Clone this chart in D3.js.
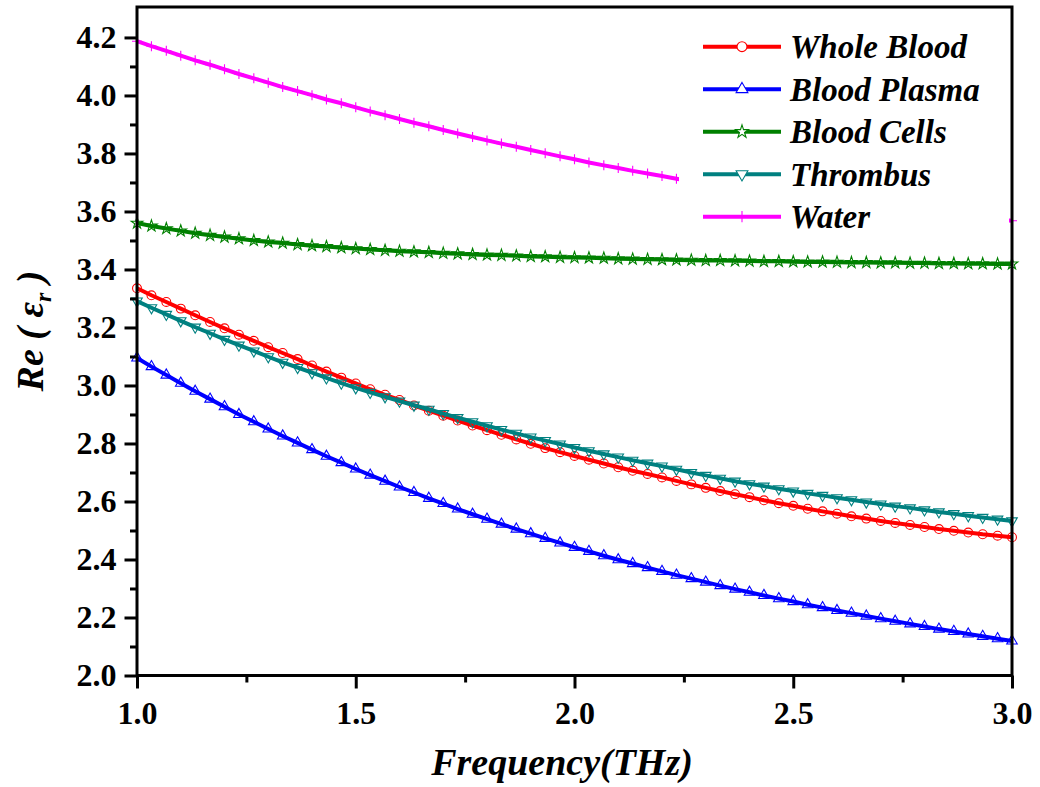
<!DOCTYPE html>
<html>
<head>
<meta charset="utf-8">
<script src="https://cdn.jsdelivr.net/npm/d3@7"></script>
<style>
    body { margin: 0; background: #fff; }
    svg text { font-family: "Liberation Serif", "Times New Roman", Tinos, "DejaVu Serif", serif; font-weight: bold; }
</style>
</head>
<body>
<div id="chart"></div>
<script>
// frequency in THz, one value per marker
const frequency = [
    1.000, 1.033, 1.067, 1.100, 1.133, 1.167, 1.200, 1.233, 1.267, 1.300,
    1.333, 1.367, 1.400, 1.433, 1.467, 1.500, 1.533, 1.567, 1.600, 1.633,
    1.667, 1.700, 1.733, 1.767, 1.800, 1.833, 1.867, 1.900, 1.933, 1.967,
    2.000, 2.033, 2.067, 2.100, 2.133, 2.167, 2.200, 2.233, 2.267, 2.300,
    2.333, 2.367, 2.400, 2.433, 2.467, 2.500, 2.533, 2.567, 2.600, 2.633,
    2.667, 2.700, 2.733, 2.767, 2.800, 2.833, 2.867, 2.900, 2.933, 2.967,
    3.000
];

const wholeBlood = [
    3.335, 3.311, 3.288, 3.265, 3.242, 3.219, 3.197, 3.175, 3.154, 3.132,
    3.112, 3.091, 3.069, 3.048, 3.027, 3.007, 2.987, 2.968, 2.950, 2.931,
    2.913, 2.896, 2.879, 2.862, 2.846, 2.830, 2.814, 2.799, 2.784, 2.770,
    2.757, 2.744, 2.731, 2.718, 2.706, 2.695, 2.683, 2.671, 2.659, 2.647,
    2.636, 2.625, 2.615, 2.604, 2.594, 2.585, 2.575, 2.566, 2.558, 2.549,
    2.541, 2.533, 2.526, 2.519, 2.512, 2.505, 2.499, 2.493, 2.487, 2.482,
    2.477
];

const bloodPlasma = [
    3.095, 3.065, 3.036, 3.008, 2.980, 2.953, 2.927, 2.900, 2.875, 2.850,
    2.826, 2.802, 2.779, 2.756, 2.734, 2.712, 2.691, 2.670, 2.650, 2.631,
    2.611, 2.593, 2.574, 2.556, 2.539, 2.522, 2.505, 2.489, 2.473, 2.457,
    2.442, 2.428, 2.413, 2.399, 2.386, 2.372, 2.359, 2.346, 2.334, 2.322,
    2.310, 2.298, 2.287, 2.276, 2.265, 2.255, 2.244, 2.234, 2.224, 2.215,
    2.205, 2.196, 2.187, 2.178, 2.169, 2.160, 2.152, 2.143, 2.135, 2.127,
    2.119
];

const bloodCells = [
    3.560, 3.550, 3.541, 3.533, 3.525, 3.518, 3.512, 3.506, 3.500, 3.495,
    3.491, 3.486, 3.482, 3.479, 3.475, 3.472, 3.469, 3.466, 3.463, 3.461,
    3.459, 3.456, 3.454, 3.452, 3.450, 3.449, 3.447, 3.445, 3.444, 3.442,
    3.441, 3.440, 3.439, 3.437, 3.436, 3.435, 3.434, 3.433, 3.432, 3.431,
    3.431, 3.430, 3.429, 3.428, 3.428, 3.427, 3.426, 3.426, 3.425, 3.424,
    3.424, 3.423, 3.423, 3.422, 3.422, 3.421, 3.421, 3.420, 3.420, 3.419,
    3.419
];

const thrombus = [
    3.291, 3.268, 3.245, 3.223, 3.201, 3.180, 3.159, 3.139, 3.119, 3.099,
    3.080, 3.062, 3.044, 3.026, 3.008, 2.992, 2.976, 2.961, 2.946, 2.932,
    2.918, 2.903, 2.889, 2.875, 2.861, 2.848, 2.835, 2.822, 2.810, 2.798,
    2.786, 2.775, 2.764, 2.753, 2.742, 2.732, 2.722, 2.711, 2.700, 2.690,
    2.680, 2.670, 2.661, 2.653, 2.644, 2.636, 2.628, 2.621, 2.613, 2.606,
    2.598, 2.591, 2.584, 2.578, 2.571, 2.564, 2.558, 2.551, 2.545, 2.539,
    2.533
];

const water = [
    4.187, 4.170, 4.154, 4.137, 4.121, 4.106, 4.090, 4.074, 4.059, 4.044,
    4.029, 4.015, 4.001, 3.986, 3.973, 3.959, 3.945, 3.932, 3.919, 3.906,
    3.894, 3.881, 3.869, 3.857, 3.845, 3.834, 3.823, 3.812, 3.801, 3.790,
    3.780, 3.769, 3.759, 3.750, 3.740, 3.731, 3.722, 3.713, 3.704, 3.696,
    3.687, 3.679, 3.672, 3.664, 3.657, 3.649, 3.642, 3.636, 3.629, 3.623,
    3.617, 3.611, 3.605, 3.600, 3.595, 3.590, 3.585, 3.580, 3.576, 3.572,
    3.568
];

const seriesNames = ["Whole Blood", "Blood Plasma", "Blood Cells", "Thrombus", "Water"];
const seriesValues = [wholeBlood, bloodPlasma, bloodCells, thrombus, water];
const seriesColours = ["#ff0000", "#0000ff", "#008000", "#008080", "#ff00ff"];

const xTicks = [1.0, 1.5, 2.0, 2.5, 3.0];
const xMinorTicks = [1.25, 1.75, 2.25, 2.75];
const yTicks = [2.0, 2.2, 2.4, 2.6, 2.8, 3.0, 3.2, 3.4, 3.6, 3.8, 4.0, 4.2];
const yMinorTicks = [2.1, 2.3, 2.5, 2.7, 2.9, 3.1, 3.3, 3.5, 3.7, 3.9, 4.1];

const serifFont = "'Liberation Serif', 'Times New Roman', Tinos, 'DejaVu Serif', serif";

// marker shapes, open symbols like Origin draws them
const plusSymbol = {
    draw(context, size) {
        const r = Math.sqrt(size) / 2;
        context.moveTo(0, -r);
        context.lineTo(0, r);
        context.moveTo(-r, 0);
        context.lineTo(r, 0);
    }
};
const markers = [
    {type: d3.symbolCircle, size: 62, rotate: 0},
    {type: d3.symbolTriangle, size: 48, rotate: 0},
    {type: d3.symbolStar, size: 42, rotate: 0},
    {type: d3.symbolTriangle, size: 48, rotate: 180},
    {type: plusSymbol, size: 100, rotate: 0}
];

const width = 1040, height = 787;
const plot = {left: 137, right: 1012, top: 7, bottom: 675.5};

const svg = d3.select("#chart")
    .append("svg")
        .attr("width", width)
        .attr("height", height);

const xScale = d3.scaleLinear().domain([1, 3]).range([plot.left, plot.right]);
const yScale = d3.scaleLinear().domain([2, 4.305]).range([plot.bottom, plot.top]);

// ---- curves ----
const line = d3.line()
    .x((d, i) => xScale(frequency[i]))
    .y(d => yScale(d));

seriesValues.forEach((values, s) => {
    const g = svg.append("g").attr("class", "series");

    g.append("path")
        .attr("d", line(values))
        .attr("fill", "none")
        .attr("stroke", seriesColours[s])
        .attr("stroke-width", 4)
        .attr("stroke-linejoin", "round");

    const sym = d3.symbol().type(markers[s].type).size(markers[s].size);
    g.selectAll(".marker")
        .data(values)
        .join("path")
            .attr("class", "marker")
            .attr("transform", (d, i) => `translate(${xScale(frequency[i])},${yScale(d)}) rotate(${markers[s].rotate})`)
            .attr("d", sym())
            .attr("fill", "none")
            .attr("stroke", seriesColours[s])
            .attr("stroke-width", 1.1);
});

// ---- legend (white box hides the water curve behind it) ----
const legend = svg.append("g").attr("class", "legend");
legend.append("rect")
    .attr("x", 679).attr("y", 8)
    .attr("width", 330).attr("height", 230)
    .attr("fill", "#fff");

seriesNames.forEach((name, s) => {
    const y = 46.7 + s * 42.5;
    const row = legend.append("g");
    row.append("line")
        .attr("x1", 703).attr("x2", 781)
        .attr("y1", y).attr("y2", y)
        .attr("stroke", seriesColours[s])
        .attr("stroke-width", 4);
    row.append("path")
        .attr("transform", `translate(742,${y}) rotate(${markers[s].rotate})`)
        .attr("d", d3.symbol().type(markers[s].type).size(markers[s].size * 1.25)())
        .attr("fill", "#fff")
        .attr("stroke", seriesColours[s])
        .attr("stroke-width", 1.1);
    row.append("text")
        .attr("x", 790).attr("y", y)
        .attr("dy", "0.35em")
        .attr("font-family", serifFont)
        .attr("font-size", 33)
        .attr("font-style", "italic")
        .text(name);
});

// ---- axes ----
function styleAxis(g) {
    g.attr("font-family", serifFont);
    g.select(".domain").remove();
    g.selectAll(".tick line").attr("stroke", "#000").attr("stroke-width", 3);
    g.selectAll(".tick text")
        .attr("fill", "#000")
        .attr("font-family", serifFont)
        .attr("font-weight", "bold")
        .attr("font-size", 32);
}

svg.append("g")
    .attr("class", "axis axis--x")
    .attr("transform", `translate(0,${plot.bottom})`)
    .call(d3.axisBottom(xScale).tickValues(xTicks).tickSize(13).tickPadding(13).tickFormat(d3.format(".1f")))
    .call(styleAxis);

svg.append("g")
    .attr("transform", `translate(0,${plot.bottom})`)
    .call(d3.axisBottom(xScale).tickValues(xMinorTicks).tickSize(7).tickFormat(""))
    .call(styleAxis);

svg.append("g")
    .attr("class", "axis axis--y")
    .attr("transform", `translate(${plot.left},0)`)
    .call(d3.axisLeft(yScale).tickValues(yTicks).tickSize(12.5).tickPadding(8).tickFormat(d3.format(".1f")))
    .call(styleAxis);

svg.append("g")
    .attr("transform", `translate(${plot.left},0)`)
    .call(d3.axisLeft(yScale).tickValues(yMinorTicks).tickSize(7).tickFormat(""))
    .call(styleAxis);

// frame
svg.append("rect")
    .attr("x", plot.left).attr("y", plot.top)
    .attr("width", plot.right - plot.left)
    .attr("height", plot.bottom - plot.top)
    .attr("fill", "none")
    .attr("stroke", "#000")
    .attr("stroke-width", 3);

// ---- titles ----
svg.append("text")
    .attr("x", 562).attr("y", 775)
    .attr("text-anchor", "middle")
    .attr("font-family", serifFont)
    .attr("font-size", 38)
    .attr("font-style", "italic")
    .text("Frequency(THz)");

const yTitle = svg.append("text")
    .attr("transform", "translate(43,331) rotate(-90)")
    .attr("text-anchor", "middle")
    .attr("font-family", serifFont)
    .attr("font-size", 38)
    .attr("font-style", "italic");
yTitle.append("tspan").text("Re ( ε");
yTitle.append("tspan").attr("font-size", 24).attr("dy", 8).text("r");
yTitle.append("tspan").attr("dy", -8).text(" )");
</script>
</body>
</html>
